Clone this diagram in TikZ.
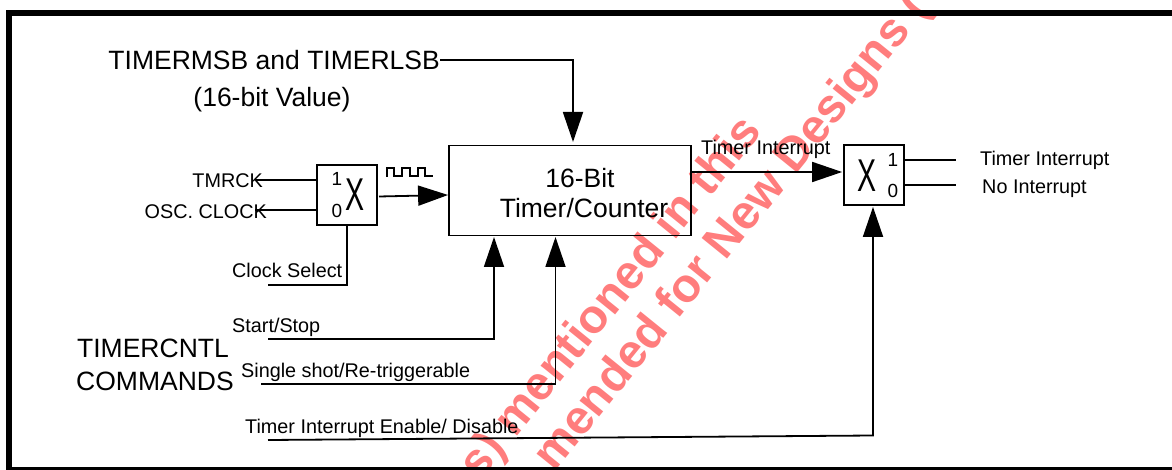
\documentclass[tikz,border=0pt]{standalone}
\usepackage{fontspec}
\setmainfont{Liberation Sans}
\usetikzlibrary{arrows.meta}
\definecolor{stamp}{RGB}{255,125,125}
\tikzset{
  block/.style={draw,line width=1.8pt,minimum width=#1,inner sep=0pt},
  wire/.style={line width=1.8pt},
  feed/.style={wire,-{Triangle[length=30pt,width=20pt]},shorten >=1pt},
  big/.style={inner sep=0pt,font=\fontsize{26.5}{26.5}\selectfont},
  small/.style={inner sep=0pt,font=\fontsize{19.8}{19.8}\selectfont},
  pin/.style={inner sep=0pt,font=\fontsize{19}{19}\selectfont},
  crossing/.style={inner sep=0pt,xscale=.62,font=\fontsize{46}{46}\selectfont},
  stamptext/.style={inner sep=0pt,text=stamp,rotate=51,font=\fontsize{47.5}{47.5}\selectfont\bfseries}
}
\begin{document}
\begin{tikzpicture}[x=1pt,y=-1pt]
  \useasboundingbox (0,0) rectangle (1172,470);
  % Watermark
  \begin{scope}
    \clip (0,0) rectangle (1172,470);
    \node[stamptext] (stampa) at (612,299) {s) mentioned in this};
    \node[stamptext] (stampb) at (733,233) {mended for New Designs (};
  \end{scope}
  % Frame
  \fill (6,10) rectangle (1172,16);
  \fill (6,10) rectangle (12,470);
  \fill (6,467) rectangle (1172,470);
  % Blocks
  \node[block=242pt,minimum height=90pt] (counter) at (570,190.5) {};
  \node[block=60pt,minimum height=60pt] (muxa) at (347,195) {};
  \node[block=60pt,minimum height=60pt] (muxb) at (874,175) {};
  \node[big] (count) at (580,178) {16-Bit};
  \node[big] (timer) at (584,208) {Timer/Counter};
  \node[crossing] (xa) at (355,195) {X};
  \node[crossing] (xb) at (867,175.5) {X};
  \node[pin] (ain) at (337,179) {1};
  \node[pin] (bin) at (337,211) {0};
  \node[pin] (aout) at (893,160) {1};
  \node[pin] (bout) at (893,191) {0};
  % Labels
  \node[big,anchor=east] (msb) at (440,60) {TIMERMSB and TIMERLSB};
  \node[big] (value) at (272,100) {(16-bit Value)};
  \node[big] (cntl) at (153,348) {TIMERCNTL};
  \node[big] (cmds) at (155,381) {COMMANDS};
  \node[small,anchor=east] (tmrck) at (263,181) {TMRCK};
  \node[small,anchor=east] (osc) at (267,212) {OSC. CLOCK};
  \node[small,anchor=west] (select) at (232,270) {Clock Select};
  \node[small,anchor=west] (start) at (232,327) {Start/Stop};
  \node[small,anchor=west] (single) at (241,372) {Single shot/Re-triggerable};
  \node[small,anchor=west] (enable) at (245,428) {Timer Interrupt Enable/ Disable};
  \node[small,anchor=west] (tint) at (701,149) {Timer Interrupt};
  \node[small,anchor=west] (yes) at (980,160) {Timer Interrupt};
  \node[small,anchor=west] (no) at (982,189) {No Interrupt};
  % Free ends
  \coordinate (tmrckend) at (256,180);
  \coordinate (oscend) at (255,210);
  \coordinate (selectend) at (268,285);
  \coordinate (startend) at (268,339);
  \coordinate (singleend) at (261,384);
  \coordinate (enableend) at (268,440);
  \coordinate (enablebend) at (873,435.5);
  \coordinate (yesend) at (956,160);
  \coordinate (noend) at (956,185);
  % Connectors
  \draw[feed] (msb.east) -- (573,60) -- (573,143);
  \draw[wire] (tmrckend) -- (317,180);
  \draw[wire] (oscend) -- (317,210);
  \draw[feed,shorten >=0pt] (379,196.5) -- (counter.west |- 0,195);
  \draw[wire] (selectend) -| (muxa.south);
  \draw[feed] (startend) -| (494,236);
  \draw[feed] (singleend) -| (555.5,236);
  \draw[feed] (enableend) -- (enablebend) -- (enablebend |- muxb.south);
  \draw[feed] (counter.east |- 0,172) -- (muxb.west |- 0,172);
  \draw[wire] (904,160) -- (yesend);
  \draw[wire] (904,185) -- (noend);
  % Clock pulses
  \draw[line width=1.8pt] (387,177) |- (394,168) |- (402,176) |- (410,168) |- (418,176) |- (425,168) |- (433,176);
\end{tikzpicture}
\end{document}
